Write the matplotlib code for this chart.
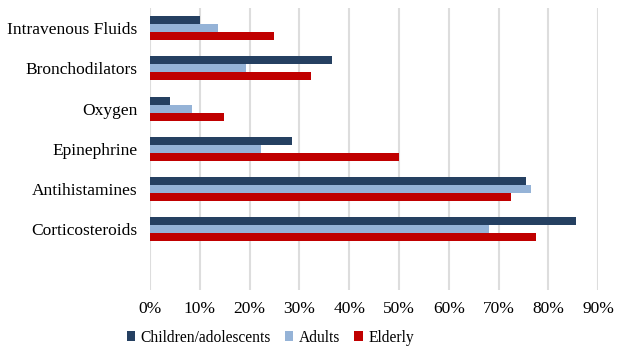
import matplotlib.pyplot as plt
import numpy as np

# Datos
categorias = ['Corticosteroids', 'Antihistamines', 'Epinephrine', 'Oxygen',
              'Bronchodilators', 'Intravenous Fluids']
ninos = [85.6, 75.4, 28.5, 4.0, 36.6, 10.1]
adultos = [68.0, 76.5, 22.2, 8.5, 19.3, 13.6]
ancianos = [77.4, 72.4, 49.9, 14.9, 32.4, 24.9]
series = ['Children/adolescents', 'Adults', 'Elderly']
colores = ['#254061', '#95B3D7', '#C00000']

plt.rcParams['font.family'] = ['Liberation Serif', 'DejaVu Serif']

fig, ax = plt.subplots(figsize=(6.2, 3.47), dpi=100)
fig.subplots_adjust(left=0.242, right=0.965, top=0.977, bottom=0.165)

y = np.arange(len(categorias))
h = 0.2
for i, (vals, nombre, c) in enumerate(zip([ninos, adultos, ancianos], series, colores)):
    ax.barh(y + h - i * h, vals, height=h, color=c, label=nombre, zorder=3)

ax.set_xlim(0, 90)
ax.set_ylim(-1.5, 5.5)
ax.set_xticks(np.arange(0, 91, 10))
ax.set_xticklabels([f'{v}%' for v in range(0, 91, 10)])
ax.set_yticks(y)
ax.set_yticklabels(categorias)
ax.tick_params(axis='both', length=0, labelsize=12.5, colors='black')
ax.tick_params(axis='x', pad=8)
ax.tick_params(axis='y', pad=9)
ax.grid(axis='x', color='#DDDDDD', linewidth=1.5, zorder=0)
for s in ax.spines.values():
    s.set_visible(False)

ax.legend(loc='center', bbox_to_anchor=(0.268, -0.17), ncol=3, frameon=False,
          fontsize=11.2, handlelength=0.55, handleheight=0.55, handletextpad=0.35,
          columnspacing=0.9)

fig.savefig('out.png')
